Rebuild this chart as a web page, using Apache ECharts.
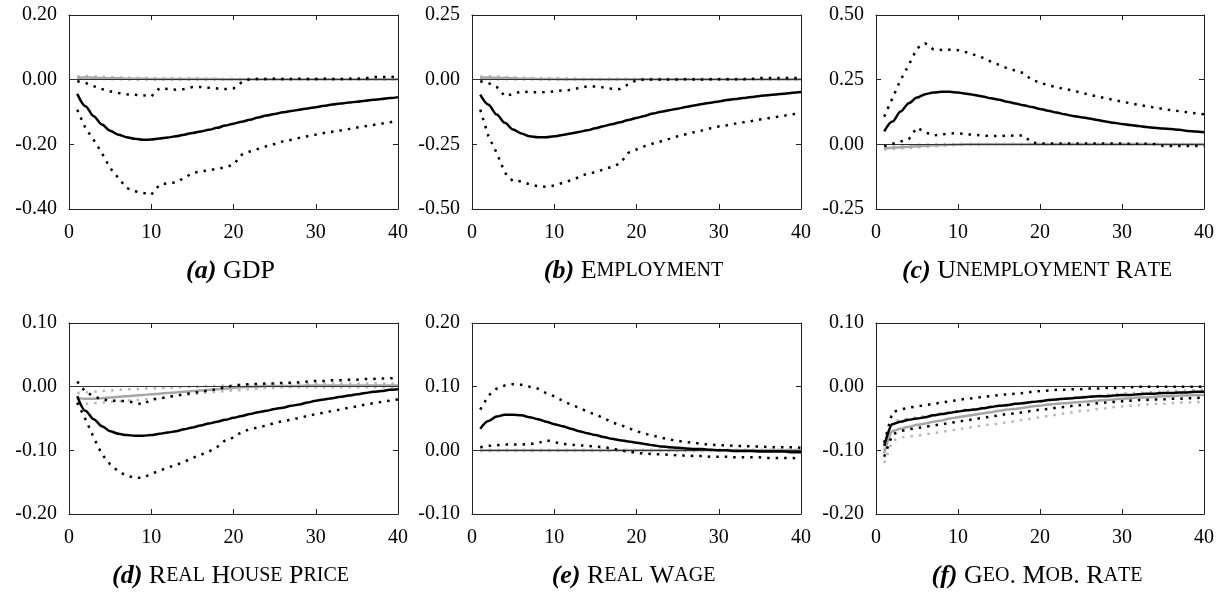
<!DOCTYPE html>
<html>
<head>
<meta charset="utf-8">
<script src="https://cdn.jsdelivr.net/npm/echarts@6/dist/echarts.min.js"></script>
<style>
html,body{margin:0;padding:0;background:#fff;}
#chart{width:1225px;height:593px;}
</style>
</head>
<body>
<div id="chart"></div>
<script>
// ---------- DATA ----------
const periods = [1,2,3,4,5,6,7,8,9,10,11,12,13,14,15,16,17,18,19,20,21,22,23,24,25,26,27,28,29,30,31,32,33,34,35,36,37,38,39,40];
const xTicks = [0, 10, 20, 30, 40];

// (a) GDP
const gdpMid = [-0.044,-0.082,-0.113,-0.139,-0.158,-0.170,-0.178,-0.183,-0.186,-0.185,-0.182,-0.179,-0.175,-0.170,-0.165,-0.160,-0.155,-0.149,-0.142,-0.136,-0.130,-0.124,-0.117,-0.111,-0.106,-0.101,-0.097,-0.093,-0.089,-0.085,-0.081,-0.077,-0.074,-0.071,-0.068,-0.065,-0.062,-0.060,-0.057,-0.054];
const gdpLo = [-0.093,-0.150,-0.186,-0.227,-0.273,-0.304,-0.335,-0.345,-0.350,-0.356,-0.325,-0.320,-0.318,-0.304,-0.289,-0.284,-0.280,-0.276,-0.271,-0.263,-0.232,-0.222,-0.214,-0.206,-0.199,-0.191,-0.186,-0.180,-0.175,-0.170,-0.165,-0.161,-0.157,-0.153,-0.148,-0.144,-0.140,-0.136,-0.132,-0.126];
const gdpHi = [-0.005,-0.010,-0.020,-0.029,-0.036,-0.041,-0.045,-0.047,-0.048,-0.052,-0.026,-0.029,-0.031,-0.029,-0.023,-0.023,-0.025,-0.027,-0.029,-0.027,-0.008,0.002,0.002,0.002,0.003,0.002,0.002,0.003,0.002,0.002,0.003,0.002,0.002,0.003,0.003,0.004,0.008,0.008,0.009,0.008];
const gdpAltMid = [0.006,0.007,0.006,0.005,0.004,0.004,0.003,0.003,0.003,0.002,0.002,0.002,0.002,0.002,0.002,0.002,0.002,0.002,0.001,0.001,0.001,0.001,0.001,0.001,0.001,0.001,0.001,0.001,0.001,0.001,0.001,0.001,0.001,0.001,0.001,0.001,0.001,0.001,0.001,0.001];
const gdpAltLo = [0.002,0.003,0.002,0.002,0.001,0.001,0.001,0.000,0.000,0.000,0.000,0.000,0.000,0.000,0.000,0.000,0.000,0.000,0.000,0.000,0.000,0.000,0.000,0.000,0.000,0.000,0.000,0.000,0.000,0.000,0.000,0.000,0.000,0.000,0.000,0.000,0.000,0.000,0.000,0.000];
const gdpAltHi = [0.010,0.011,0.010,0.009,0.008,0.007,0.006,0.006,0.005,0.005,0.004,0.004,0.004,0.004,0.004,0.004,0.003,0.003,0.003,0.003,0.003,0.003,0.003,0.003,0.003,0.003,0.003,0.003,0.003,0.003,0.003,0.003,0.003,0.003,0.003,0.003,0.003,0.003,0.003,0.003];

// (b) Employment
const empMid = [-0.058,-0.097,-0.135,-0.167,-0.193,-0.208,-0.219,-0.223,-0.223,-0.219,-0.214,-0.208,-0.202,-0.196,-0.188,-0.180,-0.172,-0.165,-0.156,-0.148,-0.140,-0.131,-0.124,-0.118,-0.112,-0.106,-0.100,-0.094,-0.089,-0.084,-0.079,-0.075,-0.071,-0.067,-0.063,-0.060,-0.057,-0.054,-0.051,-0.048];
const empLo = [-0.116,-0.219,-0.283,-0.360,-0.393,-0.393,-0.405,-0.412,-0.414,-0.409,-0.399,-0.389,-0.377,-0.363,-0.358,-0.347,-0.337,-0.324,-0.283,-0.270,-0.257,-0.247,-0.238,-0.229,-0.219,-0.211,-0.203,-0.196,-0.188,-0.181,-0.176,-0.170,-0.165,-0.160,-0.154,-0.149,-0.144,-0.139,-0.134,-0.129];
const empHi = [-0.006,-0.013,-0.028,-0.064,-0.055,-0.045,-0.048,-0.049,-0.048,-0.045,-0.042,-0.040,-0.032,-0.026,-0.026,-0.030,-0.035,-0.036,-0.018,-0.002,0.001,0.001,0.001,0.001,0.001,0.002,0.001,0.001,0.002,0.002,0.002,0.002,0.002,0.003,0.006,0.006,0.007,0.006,0.006,0.006];
const empAltMid = [0.007,0.008,0.007,0.006,0.005,0.004,0.004,0.003,0.003,0.003,0.002,0.002,0.002,0.002,0.002,0.002,0.002,0.002,0.002,0.002,0.002,0.002,0.002,0.002,0.002,0.002,0.002,0.002,0.002,0.002,0.002,0.002,0.002,0.002,0.002,0.002,0.002,0.002,0.002,0.002];
const empAltLo = [0.002,0.003,0.002,0.002,0.001,0.001,0.001,0.000,0.000,0.000,0.000,0.000,0.000,0.000,0.000,0.000,0.000,0.000,0.000,0.000,0.000,0.000,0.000,0.000,0.000,0.000,0.000,0.000,0.000,0.000,0.000,0.000,0.000,0.000,0.000,0.000,0.000,0.000,0.000,0.000];
const empAltHi = [0.012,0.013,0.012,0.010,0.009,0.008,0.007,0.006,0.006,0.005,0.005,0.005,0.004,0.004,0.004,0.004,0.004,0.004,0.004,0.004,0.004,0.004,0.004,0.004,0.004,0.004,0.004,0.004,0.004,0.004,0.004,0.004,0.004,0.004,0.004,0.004,0.004,0.004,0.004,0.004];

// (c) Unemployment rate
const unMid = [0.050,0.088,0.127,0.159,0.181,0.194,0.200,0.203,0.203,0.200,0.196,0.191,0.185,0.178,0.172,0.165,0.158,0.151,0.144,0.137,0.130,0.123,0.116,0.110,0.105,0.100,0.094,0.088,0.083,0.079,0.075,0.071,0.067,0.064,0.061,0.059,0.056,0.052,0.050,0.047];
const unHi = [0.107,0.178,0.249,0.307,0.371,0.391,0.367,0.365,0.366,0.364,0.356,0.346,0.335,0.320,0.307,0.294,0.285,0.275,0.249,0.239,0.228,0.221,0.214,0.208,0.200,0.192,0.185,0.178,0.172,0.165,0.159,0.153,0.147,0.142,0.137,0.132,0.128,0.124,0.120,0.116];
const unLo = [-0.008,0.002,0.011,0.020,0.065,0.047,0.034,0.038,0.042,0.043,0.039,0.037,0.034,0.032,0.032,0.033,0.034,0.034,0.007,0.003,0.003,0.003,0.003,0.003,0.003,0.003,0.003,0.003,0.003,0.003,0.002,0.002,0.002,0.001,-0.006,-0.006,-0.006,-0.006,-0.006,-0.006];
const unAltMid = [-0.015,-0.013,-0.011,-0.009,-0.007,-0.005,-0.004,-0.003,-0.002,-0.001,0.000,0.000,0.000,0.000,0.000,0.000,0.000,0.000,0.000,0.000,0.000,0.000,0.000,0.000,0.000,0.000,0.000,0.000,0.000,0.000,0.000,0.000,0.000,0.000,0.000,0.000,0.000,0.000,0.000,0.000];
const unAltHi = [-0.010,-0.008,-0.006,-0.004,-0.002,-0.001,0.000,0.001,0.001,0.002,0.002,0.002,0.002,0.002,0.002,0.002,0.002,0.002,0.002,0.002,0.002,0.002,0.002,0.002,0.002,0.002,0.002,0.002,0.002,0.002,0.002,0.002,0.002,0.002,0.002,0.002,0.002,0.002,0.002,0.002];
const unAltLo = [-0.020,-0.018,-0.016,-0.014,-0.012,-0.010,-0.008,-0.006,-0.004,-0.003,-0.002,-0.002,-0.001,-0.001,-0.001,-0.001,-0.001,-0.001,-0.001,-0.001,-0.001,-0.001,-0.001,-0.001,-0.001,-0.001,-0.001,-0.001,-0.001,-0.001,-0.001,-0.001,-0.001,-0.001,-0.001,-0.001,-0.001,-0.001,-0.001,-0.001];

// (d) Real house price
const hpMid = [-0.015,-0.038,-0.051,-0.062,-0.070,-0.074,-0.076,-0.077,-0.077,-0.076,-0.074,-0.072,-0.070,-0.067,-0.064,-0.061,-0.058,-0.055,-0.052,-0.049,-0.046,-0.043,-0.040,-0.038,-0.035,-0.033,-0.030,-0.028,-0.025,-0.022,-0.020,-0.018,-0.016,-0.014,-0.012,-0.010,-0.008,-0.007,-0.005,-0.004];
const hpLo = [-0.025,-0.051,-0.080,-0.106,-0.122,-0.133,-0.140,-0.143,-0.143,-0.137,-0.132,-0.127,-0.123,-0.118,-0.112,-0.107,-0.102,-0.095,-0.084,-0.080,-0.071,-0.067,-0.064,-0.061,-0.057,-0.054,-0.052,-0.049,-0.046,-0.043,-0.041,-0.038,-0.036,-0.033,-0.031,-0.028,-0.026,-0.024,-0.022,-0.020];
const hpHi = [0.008,-0.008,-0.015,-0.020,-0.022,-0.022,-0.023,-0.025,-0.028,-0.020,-0.019,-0.016,-0.014,-0.012,-0.010,-0.008,-0.006,-0.004,-0.001,0.002,0.003,0.004,0.004,0.005,0.005,0.006,0.006,0.007,0.008,0.009,0.009,0.010,0.010,0.011,0.011,0.012,0.012,0.013,0.013,0.014];
const hpAltMid = [-0.018,-0.019,-0.019,-0.018,-0.017,-0.016,-0.015,-0.014,-0.013,-0.012,-0.011,-0.010,-0.009,-0.008,-0.007,-0.006,-0.005,-0.004,-0.003,-0.002,-0.001,0.000,0.000,0.001,0.001,0.001,0.001,0.001,0.002,0.002,0.002,0.002,0.002,0.002,0.002,0.002,0.002,0.002,0.002,0.002];
const hpAltHi = [-0.010,-0.009,-0.008,-0.007,-0.006,-0.005,-0.004,-0.004,-0.003,-0.003,-0.002,-0.002,-0.001,-0.001,0.000,0.000,0.001,0.001,0.002,0.002,0.003,0.003,0.003,0.004,0.004,0.004,0.004,0.004,0.005,0.005,0.005,0.005,0.005,0.005,0.005,0.005,0.005,0.005,0.005,0.005];
const hpAltLo = [-0.026,-0.027,-0.026,-0.025,-0.024,-0.023,-0.022,-0.021,-0.020,-0.019,-0.018,-0.016,-0.015,-0.013,-0.012,-0.010,-0.009,-0.008,-0.007,-0.006,-0.005,-0.004,-0.003,-0.002,-0.002,-0.001,-0.001,-0.001,-0.001,-0.001,-0.001,-0.001,-0.001,-0.001,-0.001,-0.001,-0.001,-0.001,-0.001,-0.001];

// (e) Real wage
const wMid = [0.034,0.046,0.053,0.056,0.056,0.055,0.052,0.049,0.045,0.041,0.038,0.034,0.030,0.027,0.024,0.021,0.018,0.016,0.014,0.012,0.010,0.008,0.006,0.005,0.004,0.003,0.002,0.002,0.001,0.000,0.000,-0.001,-0.001,-0.001,-0.002,-0.002,-0.002,-0.002,-0.003,-0.003];
const wHi = [0.064,0.086,0.097,0.102,0.104,0.103,0.100,0.097,0.090,0.085,0.078,0.072,0.067,0.061,0.056,0.051,0.044,0.040,0.035,0.030,0.026,0.023,0.020,0.017,0.015,0.013,0.012,0.010,0.009,0.008,0.008,0.007,0.007,0.006,0.006,0.005,0.005,0.005,0.005,0.004];
const wLo = [0.005,0.007,0.008,0.009,0.009,0.009,0.010,0.011,0.016,0.013,0.010,0.009,0.008,0.007,0.006,0.005,0.003,0.000,-0.002,-0.004,-0.005,-0.006,-0.006,-0.007,-0.008,-0.008,-0.009,-0.009,-0.010,-0.010,-0.010,-0.011,-0.011,-0.011,-0.011,-0.012,-0.012,-0.012,-0.012,-0.013];
const wAltMid = [0.000,0.000,0.000,0.000,0.000,0.000,0.000,0.000,0.000,0.000,0.000,0.000,0.000,0.000,0.000,0.000,0.000,0.000,0.000,0.000,0.000,0.000,0.000,0.000,0.000,0.000,0.000,0.000,0.000,0.000,0.000,0.000,0.000,0.000,0.000,0.000,0.000,0.000,0.000,0.000];
const wAltHi = [0.001,0.001,0.001,0.001,0.001,0.001,0.001,0.001,0.001,0.001,0.001,0.001,0.001,0.001,0.001,0.001,0.001,0.001,0.001,0.001,0.001,0.001,0.001,0.001,0.001,0.001,0.001,0.001,0.001,0.001,0.001,0.001,0.001,0.001,0.001,0.001,0.001,0.001,0.001,0.001];
const wAltLo = [-0.001,-0.001,-0.001,-0.001,-0.001,-0.001,-0.001,-0.001,-0.001,-0.001,-0.001,-0.001,-0.001,-0.001,-0.001,-0.001,-0.001,-0.001,-0.001,-0.001,-0.001,-0.001,-0.001,-0.001,-0.001,-0.001,-0.001,-0.001,-0.001,-0.001,-0.001,-0.001,-0.001,-0.001,-0.001,-0.001,-0.001,-0.001,-0.001,-0.001];

// (f) Geographic mobility rate
const gmMid = [-0.093,-0.059,-0.055,-0.052,-0.050,-0.048,-0.045,-0.043,-0.041,-0.039,-0.037,-0.036,-0.034,-0.032,-0.030,-0.029,-0.027,-0.026,-0.024,-0.023,-0.021,-0.020,-0.019,-0.018,-0.017,-0.016,-0.015,-0.015,-0.014,-0.013,-0.013,-0.012,-0.011,-0.011,-0.010,-0.010,-0.009,-0.009,-0.008,-0.008];
const gmHi = [-0.088,-0.040,-0.036,-0.033,-0.031,-0.029,-0.027,-0.025,-0.023,-0.021,-0.019,-0.018,-0.016,-0.015,-0.013,-0.012,-0.011,-0.010,-0.008,-0.007,-0.006,-0.005,-0.005,-0.004,-0.004,-0.003,-0.003,-0.002,-0.002,-0.001,-0.001,0.000,0.000,0.000,0.000,0.000,0.000,0.000,0.000,0.000];
const gmLo = [-0.110,-0.075,-0.070,-0.067,-0.065,-0.063,-0.061,-0.059,-0.057,-0.055,-0.053,-0.051,-0.049,-0.047,-0.045,-0.043,-0.042,-0.040,-0.038,-0.036,-0.035,-0.033,-0.032,-0.030,-0.029,-0.028,-0.026,-0.025,-0.024,-0.023,-0.022,-0.021,-0.021,-0.020,-0.020,-0.019,-0.019,-0.018,-0.018,-0.017];
const gmAltMid = [-0.105,-0.070,-0.066,-0.063,-0.060,-0.058,-0.055,-0.053,-0.050,-0.048,-0.046,-0.044,-0.042,-0.040,-0.038,-0.036,-0.035,-0.033,-0.031,-0.030,-0.028,-0.027,-0.026,-0.025,-0.024,-0.023,-0.022,-0.021,-0.020,-0.019,-0.018,-0.017,-0.017,-0.016,-0.015,-0.015,-0.014,-0.014,-0.013,-0.013];
const gmAltHi = [-0.100,-0.055,-0.052,-0.050,-0.048,-0.046,-0.044,-0.042,-0.040,-0.038,-0.036,-0.035,-0.033,-0.031,-0.030,-0.028,-0.027,-0.025,-0.024,-0.022,-0.021,-0.020,-0.018,-0.017,-0.016,-0.015,-0.014,-0.013,-0.012,-0.011,-0.010,-0.010,-0.009,-0.008,-0.008,-0.007,-0.006,-0.006,-0.005,-0.005];
const gmAltLo = [-0.120,-0.085,-0.080,-0.078,-0.077,-0.075,-0.073,-0.071,-0.069,-0.067,-0.065,-0.063,-0.061,-0.059,-0.058,-0.056,-0.054,-0.052,-0.050,-0.048,-0.046,-0.044,-0.042,-0.040,-0.038,-0.037,-0.035,-0.034,-0.032,-0.031,-0.030,-0.029,-0.028,-0.027,-0.027,-0.026,-0.025,-0.025,-0.024,-0.024];

// y-axis ranges (tick labels)
const yTicksA = [-0.40, -0.20, 0.00, 0.20];
const yTicksB = [-0.50, -0.25, 0.00, 0.25];
const yTicksC = [-0.25, 0.00, 0.25, 0.50];
const yTicksD = [-0.20, -0.10, 0.00, 0.10];
const yTicksE = [-0.10, 0.00, 0.10, 0.20];
const yTicksF = [-0.20, -0.10, 0.00, 0.10];

// panel titles (label, small-caps words)
const titles = [
  ['(a)', 'GDP'],
  ['(b)', 'Employment'],
  ['(c)', 'Unemployment Rate'],
  ['(d)', 'Real House Price'],
  ['(e)', 'Real Wage'],
  ['(f)', 'Geo. Mob. Rate']
];

// ---------- LAYOUT ----------
const panels = [
  {left: 69,  top: 15,  w: 329, h: 194, ticks: yTicksA, d: [gdpMid, gdpLo, gdpHi, gdpAltMid, gdpAltLo, gdpAltHi]},
  {left: 472, top: 15,  w: 329, h: 194, ticks: yTicksB, d: [empMid, empLo, empHi, empAltMid, empAltLo, empAltHi]},
  {left: 876, top: 15,  w: 328, h: 194, ticks: yTicksC, d: [unMid, unLo, unHi, unAltMid, unAltLo, unAltHi]},
  {left: 69,  top: 323, w: 329, h: 191, ticks: yTicksD, d: [hpMid, hpLo, hpHi, hpAltMid, hpAltLo, hpAltHi]},
  {left: 472, top: 323, w: 329, h: 191, ticks: yTicksE, d: [wMid, wLo, wHi, wAltMid, wAltLo, wAltHi]},
  {left: 876, top: 323, w: 328, h: 191, ticks: yTicksF, d: [gmMid, gmLo, gmHi, gmAltMid, gmAltLo, gmAltHi]}
];

const FONT = 'Liberation Serif';
const AX = '#222';

function smallCaps(s) {
  // capitals stay large, lower-case letters become small capitals
  let out = '';
  for (const ch of s) {
    if (/[a-z]/.test(ch)) out += '{S|' + ch.toUpperCase() + '}';
    else out += '{L|' + ch + '}';
  }
  return out;
}

const grid = [], xAxis = [], yAxis = [], series = [], title = [];
const n = panels.length;

panels.forEach((p, i) => {
  grid.push({left: p.left, top: p.top, width: p.w, height: p.h, containLabel: false});
  const ymin = p.ticks[0], ymax = p.ticks[p.ticks.length - 1], yint = p.ticks[1] - p.ticks[0];
  const base = {
    gridIndex: i, type: 'value', min: xTicks[0], max: xTicks[xTicks.length - 1], interval: xTicks[1] - xTicks[0],
    axisLine: {show: true, onZero: false, lineStyle: {color: AX, width: 1}},
    axisTick: {show: true, inside: true, length: 5, lineStyle: {color: AX}},
    splitLine: {show: false}
  };
  xAxis[i] = Object.assign({}, base, {position: 'bottom',
    axisLabel: {show: true, fontFamily: FONT, fontSize: 20, color: '#000', margin: 14}});
  xAxis[n + i] = Object.assign({}, base, {position: 'top', axisLabel: {show: false}});
  const ybase = {
    gridIndex: i, type: 'value', min: ymin, max: ymax, interval: yint,
    axisLine: {show: true, onZero: false, lineStyle: {color: AX, width: 1}},
    axisTick: {show: true, inside: true, length: 5, lineStyle: {color: AX}},
    splitLine: {show: false}
  };
  yAxis[i] = Object.assign({}, ybase, {position: 'left',
    axisLabel: {show: true, fontFamily: FONT, fontSize: 20, color: '#000', margin: 12,
      formatter: v => v.toFixed(2)}});
  yAxis[n + i] = Object.assign({}, ybase, {position: 'right', axisLabel: {show: false}});

  const mk = (arr, color, width, type, z, extra) => Object.assign({
    type: 'line', xAxisIndex: i, yAxisIndex: i,
    data: periods.map((t, k) => [t, arr[k]]),
    symbol: 'none', showSymbol: false, smooth: false, silent: true, z: z,
    lineStyle: {color: color, width: width, type: type, cap: 'butt'}
  }, extra || {});

  const dots = [2.5, 6];
  // alternative model (grey)
  series.push(mk(p.d[4], '#b8b8b8', 2.5, dots, 2));
  series.push(mk(p.d[5], '#b8b8b8', 2.5, dots, 2));
  series.push(mk(p.d[3], '#a6a6a6', 2.5, 'solid', 3, {smooth: 0.3, smoothMonotone: 'x'}));
  // zero line
  series.push(mk(p.d[0], '#000', 0, 'solid', 4, {
    lineStyle: {width: 0, opacity: 0},
    markLine: {silent: true, symbol: 'none', label: {show: false},
      lineStyle: {color: '#333', width: 1, type: 'solid'}, data: [{yAxis: 0}], animation: false}
  }));
  // baseline model (black)
  series.push(mk(p.d[1], '#000', 2.5, dots, 5));
  series.push(mk(p.d[2], '#000', 2.5, dots, 5));
  series.push(mk(p.d[0], '#000', 2.5, 'solid', 6, {smooth: 0.3, smoothMonotone: 'x'}));

  const t = titles[i];
  title.push({
    text: '{I|' + t[0] + '}{L| }' + smallCaps(t[1]),
    left: p.left + p.w / 2 - 8, top: p.top + p.h + 44, textAlign: 'center',
    textStyle: {
      fontWeight: 'normal',
      rich: {
        I: {fontFamily: FONT, fontSize: 26, fontWeight: 'bold', fontStyle: 'italic', color: '#000'},
        L: {fontFamily: FONT, fontSize: 26, fontWeight: 'normal', color: '#000'},
        S: {fontFamily: FONT, fontSize: 20, fontWeight: 'normal', color: '#000'}
      }
    }
  });
});

const chart = echarts.init(document.getElementById('chart'), null, {renderer: 'canvas'});
chart.setOption({
  animation: false,
  backgroundColor: '#fff',
  title: title,
  grid: grid,
  xAxis: xAxis,
  yAxis: yAxis,
  series: series
});
</script>
</body>
</html>
